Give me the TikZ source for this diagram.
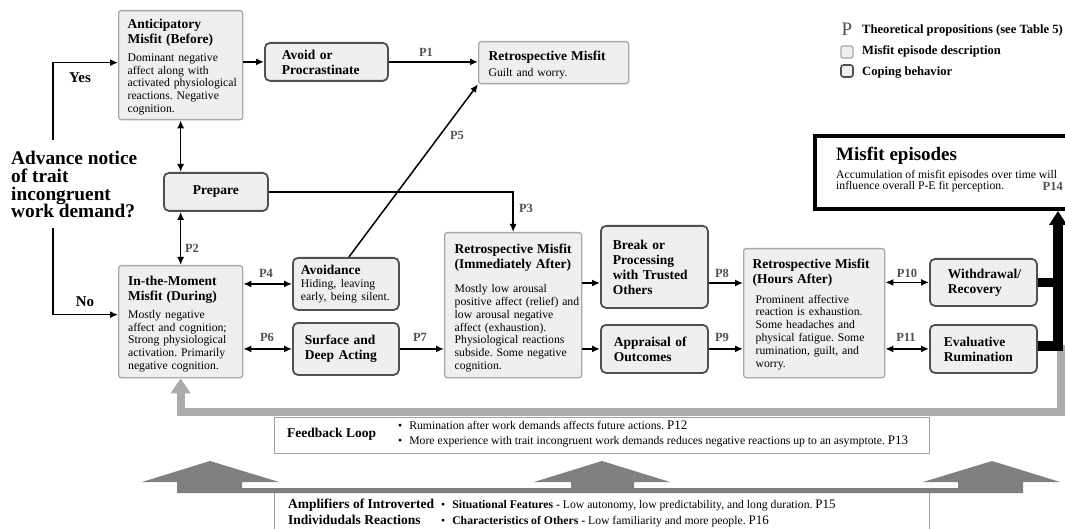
\documentclass[tikz,border=0pt]{standalone}
\usepackage{fontspec}
\setmainfont{Liberation Serif}
\usetikzlibrary{arrows.meta}
\definecolor{boxfill}{HTML}{EFEFEF}
\definecolor{mborder}{HTML}{A8A8A8}
\definecolor{cborder}{HTML}{505050}
\definecolor{plabc}{HTML}{505050}
\definecolor{loopgray}{HTML}{ABABAB}
\definecolor{biggray}{HTML}{808080}
\definecolor{fbborder}{HTML}{A0A0A0}
\newcommand{\ttlf}{\fontsize{13.5}{15}\selectfont\bfseries}
\newcommand{\bdyf}{\fontsize{11.7}{12.9}\selectfont\mdseries}
\newcommand{\lgdf}{\fontsize{12.6}{14}\selectfont\bfseries}
\newcommand{\pbig}[1]{{\fontsize{13}{14}\selectfont #1}}
\newcommand{\wide}{\rightskip=-40pt plus 1fil\relax\hyphenpenalty=10000\exhyphenpenalty=10000\relax}
\newcommand{\lowr}[1]{\par\vspace{-#1}\nointerlineskip\hbox{}}
\begin{document}
\frenchspacing
\begin{tikzpicture}[x=1pt, y=-1pt,
  misfit/.style={draw=mborder, fill=boxfill, line width=1.3pt, rounded corners=2.5pt, anchor=north west, align=left, inner ysep=0pt, font=\bdyf},
  coping/.style={draw=cborder, fill=boxfill, line width=1.8pt, rounded corners=5pt, anchor=north west, align=left, inner ysep=0pt, font=\ttlf},
  plab/.style={font=\fontsize{12.5}{14}\selectfont\bfseries, text=plabc, inner sep=0pt},
  conn/.style={line width=1.5pt, -{Latex[length=8pt,width=7pt]}},
  dconn/.style={line width=1.5pt, {Latex[length=8pt,width=7pt]}-{Latex[length=8pt,width=7pt]}},
  plain/.style={inner sep=0pt, anchor=base west},
]
\useasboundingbox (0,0) rectangle (1065,529);

% ---------- amplifier box and big grey arrows ----------
\node[draw=fbborder, line width=1.2pt, fill=white, anchor=north west, minimum width=655pt, minimum height=60pt, inner sep=0pt] (amp) at (274,490) {};
\fill[biggray] (177,493) -- (177,482) -- (142,482) -- (210,461) -- (279,482) -- (242,482) -- (242,488)
  -- (571,488) -- (571,482) -- (534,482) -- (602,461) -- (670,482) -- (634,482) -- (634,488)
  -- (958,488) -- (958,482) -- (923,482) -- (992,461) -- (1060,482) -- (1023,482) -- (1023,493) -- cycle;
\node[plain, font=\ttlf] (ampt1) at (288,508.5) {Amplifiers of Introverted};
\node[plain, font=\ttlf] (ampt2) at (288,524.5) {Individudals Reactions};
\node[plain, font=\bdyf] (amp1) at (441,508.5) {\textbullet\hspace{7pt}\textbf{Situational Features -} Low autonomy, low predictability, and long duration. \pbig{P15}};
\node[plain, font=\bdyf] (amp2) at (441,524) {\textbullet\hspace{7pt}\textbf{Characteristics of Others -} Low familiarity and more people. \pbig{P16}};

% ---------- feedback loop box ----------
\node[draw=fbborder, line width=1.2pt, fill=white, anchor=north west, minimum width=655pt, minimum height=36pt, inner sep=0pt] (fb) at (274,417) {};
\node[plain, font=\ttlf] (fbt) at (287,437.5) {Feedback Loop};
\node[plain, font=\bdyf] (fb1) at (398,429.5) {\textbullet\hspace{7pt}Rumination after work demands affects future actions. \pbig{P12}};
\node[plain, font=\bdyf] (fb2) at (398,444.5) {\textbullet\hspace{7pt}More experience with trait incongruent work demands reduces negative reactions up to an asymptote. \pbig{P13}};

% ---------- question ----------
\node[anchor=north west, inner sep=0pt, align=left, font=\fontsize{19.3}{17.8}\selectfont\bfseries] (q) at (11,151) {Advance notice\\of trait\\incongruent\\work demand?};
\node[font=\fontsize{15}{16}\selectfont\bfseries, inner sep=0pt] (yes) at (80,78) {Yes};
\node[font=\fontsize{15}{16}\selectfont\bfseries, inner sep=0pt] (no) at (85,302) {No};
\coordinate (yesstart) at (53,140);
\coordinate (nostart) at (53,228);

% ---------- misfit boxes ----------
\node[misfit, text width=106pt, inner xsep=9pt, minimum height=109pt] (ant) at (118,10)
  {\wide\ttlf Anticipatory\\Misfit (Before)\par\vspace{4.8pt}\bdyf Dominant negative\\affect along with\\activated physiological\\reactions. Negative\\cognition.\lowr{4pt}};
\node[misfit, text width=130pt, inner xsep=10pt, minimum height=42pt] (retro1) at (478,41)
  {\wide\ttlf Retrospective Misfit\par\vspace{3pt}\bdyf Guilt and worry.\lowr{4pt}};
\node[misfit, text width=105pt, inner xsep=9.5pt, minimum height=112pt] (moment) at (118,265)
  {\wide\ttlf In-the-Moment\\Misfit (During)\par\vspace{4.8pt}\bdyf Mostly negative\\affect and cognition;\\Strong physiological\\activation. Primarily\\negative cognition.\lowr{5pt}};
\node[misfit, text width=117pt, inner xsep=10pt, minimum height=145pt] (retroimm) at (444,232)
  {\wide\ttlf Retrospective Misfit\\(Immediately After)\par\vspace{11pt}\bdyf Mostly low arousal\\positive affect (relief) and\\low arousal negative\\affect (exhaustion).\\Physiological reactions\\subside. Some negative\\cognition.\lowr{6pt}};
\node[misfit, text width=123pt, inner xsep=9pt, minimum height=129pt] (retrohours) at (743,248)
  {\wide\ttlf Retrospective Misfit\\(Hours After)\par\vspace{6.5pt}\bdyf\leftskip=3pt Prominent affective\\reaction is exhaustion.\\Some headaches and\\physical fatigue. Some\\rumination, guilt, and\\worry.\lowr{3pt}};

% ---------- coping boxes ----------
\node[coping, text width=89pt, inner xsep=17pt, minimum height=38pt] (avoid) at (264,42) {\wide Avoid or\\Procrastinate};
\node[coping, text width=80pt, inner xsep=12pt, minimum height=38pt, align=center] (prep) at (163,172) {Prepare};
\node[coping, text width=90pt, inner xsep=8pt, minimum height=52pt] (avoidance) at (292,257)
  {\wide Avoidance\par\vspace{0.5pt}\bdyf Hiding, leaving\\early, being silent.\par};
\node[coping, text width=82pt, inner xsep=12pt, minimum height=52pt] (surface) at (292,322) {\wide Surface and\\Deep Acting};
\node[coping, text width=83pt, inner xsep=12pt, minimum height=82pt] (break) at (600,225) {\wide Break or\\Processing\\with Trusted\\Others};
\node[coping, text width=81pt, inner xsep=13pt, minimum height=48pt] (appraisal) at (600,324) {\wide Appraisal of\\Outcomes};
\node[coping, text width=71pt, inner xsep=18pt, minimum height=47pt] (withdrawal) at (929,258) {\wide Withdrawal/\\Recovery};
\node[coping, text width=79pt, inner xsep=14pt, minimum height=48pt] (eval) at (929,324) {\wide Evaluative\\Rumination};

% ---------- misfit episodes ----------
\node[draw=black, line width=4pt, fill=white, anchor=north west, minimum width=254pt, minimum height=73pt, inner sep=0pt] (episodes) at (813,134) {};
\node[plain, font=\fontsize{19}{20}\selectfont\bfseries] (ept) at (836,160.5) {Misfit episodes};
\node[plain, font=\bdyf] (epb1) at (836,179) {Accumulation of misfit episodes over time will};
\node[plain, font=\bdyf] (epb2) at (836,190) {influence overall P-E fit perception.};
\node[plab, anchor=base east] (p14) at (1063,191) {P14};

% ---------- legend ----------
\node[font=\fontsize{19}{19}\selectfont, text=plabc, inner sep=0pt] (legp) at (847,29) {P};
\node[plain, font=\lgdf] (leg1) at (862,33.5) {Theoretical propositions (see Table 5)};
\node[draw=mborder, fill=boxfill, line width=1.2pt, rounded corners=2pt, minimum width=12pt, minimum height=12pt, inner sep=0pt] (legm) at (847,52) {};
\node[plain, font=\lgdf] (leg2) at (862,54.5) {Misfit episode description};
\node[draw=cborder, fill=boxfill, line width=1.6pt, rounded corners=2.5pt, minimum width=12pt, minimum height=12pt, inner sep=0pt] (legc) at (847,71) {};
\node[plain, font=\lgdf] (leg3) at (862,75.5) {Coping behavior};

% ---------- connectors ----------
\draw[conn] (yesstart) |- ([yshift=2.5pt]ant.west);
\draw[conn] (nostart) |- ([yshift=7pt]moment.west);
\draw[conn] (ant.east |- avoid.west) -- (avoid.west);
\draw[conn] (avoid.east) -- (retro1.west |- avoid.east);
\draw[conn] ([xshift=3pt]avoidance.north) -- (retro1.south west);
\draw[dconn] (ant.south) -- (ant.south |- prep.north);
\draw[dconn] (prep.south -| moment.north) -- (moment.north);
\draw[conn] (prep.east) -| (retroimm.north);
\draw[dconn] (moment.east |- avoidance.west) -- (avoidance.west);
\draw[dconn] (moment.east |- surface.west) -- (surface.west);
\draw[conn] (surface.east) -- (retroimm.west |- surface.east);
\coordinate (rowa) at (0,283);
\draw[conn] (retroimm.east |- rowa) -- (break.west |- rowa);
\draw[conn] (retroimm.east |- appraisal.west) -- (appraisal.west);
\draw[conn] (break.east |- rowa) -- (retrohours.west |- rowa);
\draw[conn] (appraisal.east) -- (retrohours.west |- appraisal.east);
\draw[dconn] (retrohours.east |- withdrawal.west) -- (withdrawal.west);
\draw[dconn] (retrohours.east |- eval.west) -- (eval.west);

% ---------- P labels ----------
\node[plab] (p1) at (426,52) {P1};
\node[plab] (p2) at (192,248) {P2};
\node[plab] (p3) at (526,208) {P3};
\node[plab] (p4) at (266,273) {P4};
\node[plab] (p5) at (457,135) {P5};
\node[plab] (p6) at (267,337) {P6};
\node[plab] (p7) at (420,337) {P7};
\node[plab] (p8) at (722,273) {P8};
\node[plab] (p9) at (722,337) {P9};
\node[plab] (p10) at (907,273) {P10};
\node[plab] (p11) at (906,337) {P11};

% ---------- feedback loop (grey) ----------
\coordinate (gstart) at (1061,345);
\coordinate (gcorner) at (1061,412);
\draw[loopgray, line width=8pt, -{Triangle[width=19pt,length=15pt]}] (gstart) -- (gcorner) -| (moment.south);

% ---------- black bars to misfit episodes ----------
\coordinate (vx) at (1058,0);
\draw[line width=9pt] (withdrawal.east) -- (withdrawal.east -| vx);
\draw[line width=10pt, line join=miter, -{Triangle[width=17pt,length=14pt]}] ([yshift=3pt]eval.east) -| (episodes.south -| vx);
\end{tikzpicture}
\end{document}
